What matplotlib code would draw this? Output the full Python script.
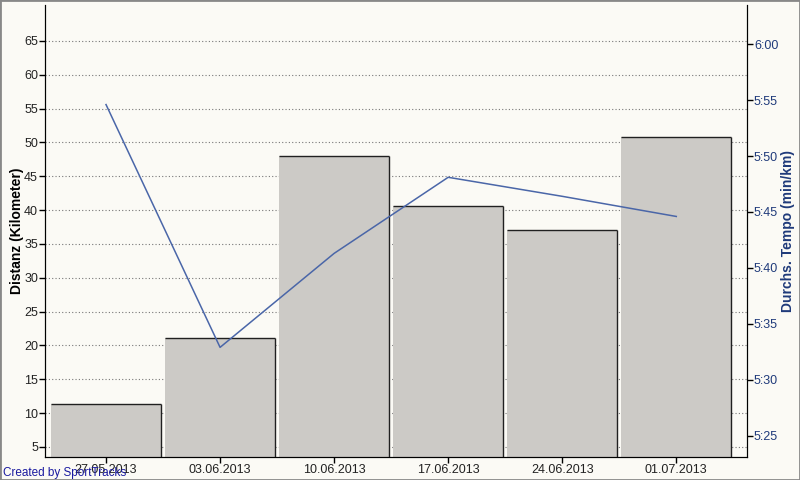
import matplotlib
matplotlib.use("Agg")
import matplotlib.pyplot as plt
from matplotlib.patches import Rectangle
from matplotlib.ticker import FuncFormatter
import numpy as np

# weekly summary, SportTracks style
weeks = ["27.05.2013", "03.06.2013", "10.06.2013", "17.06.2013", "24.06.2013", "01.07.2013"]
distance_km = [11.35, 21.1, 48.0, 40.6, 37.05, 50.8]
pace_sec = [354.6, 332.9, 341.3, 348.1, 346.4, 344.6]  # seconds per km

left_ticks = [5, 10, 15, 20, 25, 30, 35, 40, 45, 50, 55, 60, 65]
right_ticks = [325, 330, 335, 340, 345, 350, 355, 360]

bg = "#fbfaf5"
bar_col = "#cccac6"
edge_col = "#202020"
line_col = "#4a66a8"
blue_txt = "#1f3a7a"

plt.rcParams["font.family"] = ["Liberation Sans", "DejaVu Sans"]

fig = plt.figure(figsize=(8, 4.8), dpi=100, facecolor=bg)
ax = fig.add_axes([0.05625, 0.0479, 0.8775, 0.9417])
ax.set_facecolor(bg)

x = np.arange(len(weeks))
width = 0.965
ax.bar(x, distance_km, width=width, color=bar_col, edgecolor="none", zorder=2)
# dark outline on top and right edge of each bar
d = np.array(distance_km)
ax.hlines(d, x - width / 2, x + width / 2, color=edge_col, lw=1, zorder=3)
ax.vlines(x + width / 2, 0, d, color=edge_col, lw=1, zorder=3)

ax.set_xlim(-0.535, 5.62)
ax.set_ylim(3.5, 70.3)
ax.set_yticks(left_ticks)
ax.set_xticks(x)
ax.set_xticklabels(weeks)
ax.grid(axis="y", linestyle=(0, (1, 2)), color="#777777", lw=0.8, zorder=1)
ax.set_axisbelow(True)
ax.tick_params(axis="both", labelsize=9, length=4, width=1, pad=1, color="black", labelcolor="#222222")
ax.set_ylabel("Distanz (Kilometer)", fontsize=10, fontweight="bold", labelpad=0)
ax.spines["top"].set_visible(False)

ax2 = ax.twinx()
ax2.plot(x, pace_sec, color=line_col, lw=1.1, zorder=4)
ax2.set_ylim(323.1, 363.5)
ax2.set_yticks(right_ticks)
ax2.yaxis.set_major_formatter(FuncFormatter(lambda v, p: f"{int(v) // 60}:{int(v) % 60:02d}"))
ax2.tick_params(axis="y", labelsize=9, length=4, width=1, pad=1, color="black", labelcolor=blue_txt)
ax2.set_ylabel("Durchs. Tempo (min/km)", fontsize=10, fontweight="bold", color=blue_txt, labelpad=2)
ax2.spines["top"].set_visible(False)

fig.text(0.004, 0.008, "Created by SportTracks", fontsize=8.5, color="#1a1aa0")
fig.patches.append(Rectangle((0, 0), 1, 1, transform=fig.transFigure, fill=False,
                             edgecolor="#888888", lw=2))

fig.savefig("out.png", dpi=100, facecolor=bg)
